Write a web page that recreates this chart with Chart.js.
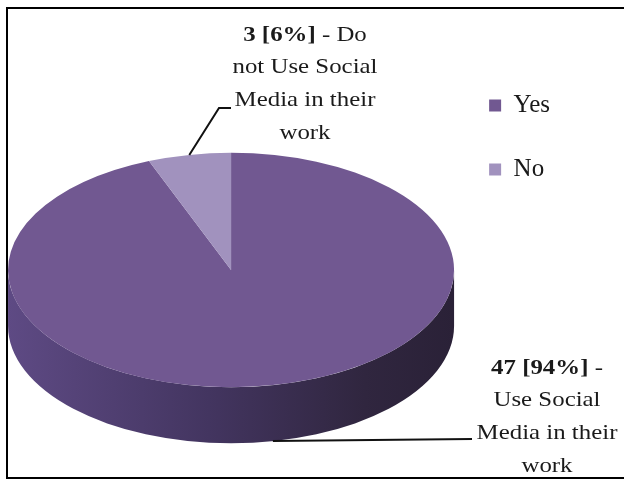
<!DOCTYPE html>
<html>
<head>
<meta charset="utf-8">
<script src="https://cdn.jsdelivr.net/npm/chart.js@4"></script>
<style>
  html, body { margin: 0; padding: 0; background: #fff; }
  #wrap { width: 624px; height: 480px; }
</style>
</head>
<body>
<div id="wrap"><canvas id="pie" width="624" height="480"></canvas></div>
<script>
// Dữ liệu của biểu đồ
const categories = ['Yes', 'No'];
const counts = [47, 3];
const percents = [94, 6];
const labelTails = [' -', ' - Do'];
const labelLines = [
  ['Use Social', 'Media in their', 'work'],
  ['not Use Social', 'Media in their', 'work']
];
const sliceColors = ['#715891', '#a192be'];

// Kiểu dáng 3D
const WIDEN = 1.047;
const SQUASH = 0.55;
const SHIFT_X = 2.5;
const SHIFT_Y = 3;
const DEPTH = 56;
const TEXT_STRETCH = 1.13;
const FONT_FAMILY = '"Liberation Serif", "Times New Roman", serif';

// vị trí nhãn và đường dẫn
const labelAnchors = [{ x: 547, y: 368 }, { x: 305, y: 35 }];
const leaderRoutes = [
  { drop: DEPTH, points: [{ x: 472, y: 439 }] },
  { drop: 0, points: [{ x: 219, y: 108 }, { x: 231, y: 108 }] }
];

function edgePoint(chart, angle, drop) {
  const a = chart.getDatasetMeta(0).data[0];
  const R = a.outerRadius;
  return {
    x: a.x + SHIFT_X + Math.cos(angle) * R * WIDEN,
    y: a.y + SHIFT_Y + Math.sin(angle) * R * SQUASH + drop
  };
}

const pie3d = {
  id: 'pie3d',
  beforeDatasetsDraw(chart) {
    const ctx = chart.ctx;
    const arcs = chart.getDatasetMeta(0).data;
    const a = arcs[0];
    const d = DEPTH / SQUASH;
    ctx.save();
    ctx.translate(a.x + SHIFT_X, a.y + SHIFT_Y);
    ctx.scale(WIDEN, SQUASH);
    ctx.translate(-a.x, -a.y);

    // mặt bên của bánh
    const g = ctx.createLinearGradient(a.x - a.outerRadius, 0, a.x + a.outerRadius, 0);
    g.addColorStop(0, '#5e4a84');
    g.addColorStop(0.45, '#433560');
    g.addColorStop(0.8, '#30263f');
    g.addColorStop(1, '#2a2137');
    arcs.forEach(arc => {
      const s = Math.max(arc.startAngle, 0);
      const e = Math.min(arc.endAngle, Math.PI);
      if (e <= s) return;
      ctx.beginPath();
      ctx.arc(arc.x, arc.y, arc.outerRadius, s, e);
      ctx.arc(arc.x, arc.y + d, arc.outerRadius, e, s, true);
      ctx.closePath();
      ctx.fillStyle = g;
      ctx.fill();
    });
  },
  afterDatasetsDraw(chart) {
    chart.ctx.restore();
  },
  afterDraw(chart) {
    const ctx = chart.ctx;
    const arcs = chart.getDatasetMeta(0).data;

    // đường dẫn tới nhãn
    ctx.save();
    ctx.strokeStyle = '#111';
    ctx.lineWidth = 2;
    arcs.forEach((arc, i) => {
      const mid = (arc.startAngle + arc.endAngle) / 2;
      const p = edgePoint(chart, mid, leaderRoutes[i].drop);
      ctx.beginPath();
      ctx.moveTo(p.x, p.y);
      leaderRoutes[i].points.forEach(q => ctx.lineTo(q.x, q.y));
      ctx.stroke();
    });
    ctx.restore();

    // nhãn dữ liệu
    counts.forEach((c, i) => {
      const head = c + ' [' + percents[i] + '%]';
      const lines = [[{ text: head, bold: true }, { text: labelTails[i], bold: false }]]
        .concat(labelLines[i].map(t => [{ text: t, bold: false }]));
      lines.forEach((parts, k) => {
        drawStretched(ctx, parts, labelAnchors[i].x, labelAnchors[i].y + k * 32.7);
      });
    });

    // khung
    ctx.save();
    ctx.strokeStyle = '#000';
    ctx.lineWidth = 2;
    ctx.strokeRect(7, 8, 660, 470);
    ctx.restore();
  }
};

function drawStretched(ctx, parts, cx, cy) {
  ctx.save();
  ctx.translate(cx, cy);
  ctx.scale(TEXT_STRETCH, 1);
  ctx.fillStyle = '#1a1a1a';
  ctx.textAlign = 'left';
  ctx.textBaseline = 'middle';
  let total = 0;
  parts.forEach(p => {
    ctx.font = (p.bold ? 'bold ' : '') + '22px ' + FONT_FAMILY;
    p.w = ctx.measureText(p.text).width;
    total += p.w;
  });
  let x = -total / 2;
  parts.forEach(p => {
    ctx.font = (p.bold ? 'bold ' : '') + '22px ' + FONT_FAMILY;
    ctx.fillText(p.text, x, 0);
    x += p.w;
  });
  ctx.restore();
}

new Chart(document.getElementById('pie'), {
  type: 'pie',
  data: {
    labels: categories,
    datasets: [{
      data: counts,
      backgroundColor: sliceColors,
      borderWidth: 0
    }]
  },
  options: {
    responsive: false,
    animation: false,
    layout: { padding: { top: 54, left: 7, right: 64, bottom: 0 } },
    plugins: {
      tooltip: { enabled: false },
      legend: {
        position: 'right',
        align: 'start',
        labels: {
          boxWidth: 12,
          boxHeight: 12,
          padding: 39,
          color: '#1a1a1a',
          font: { family: FONT_FAMILY, size: 25 }
        }
      }
    }
  },
  plugins: [pie3d]
});
</script>
</body>
</html>
